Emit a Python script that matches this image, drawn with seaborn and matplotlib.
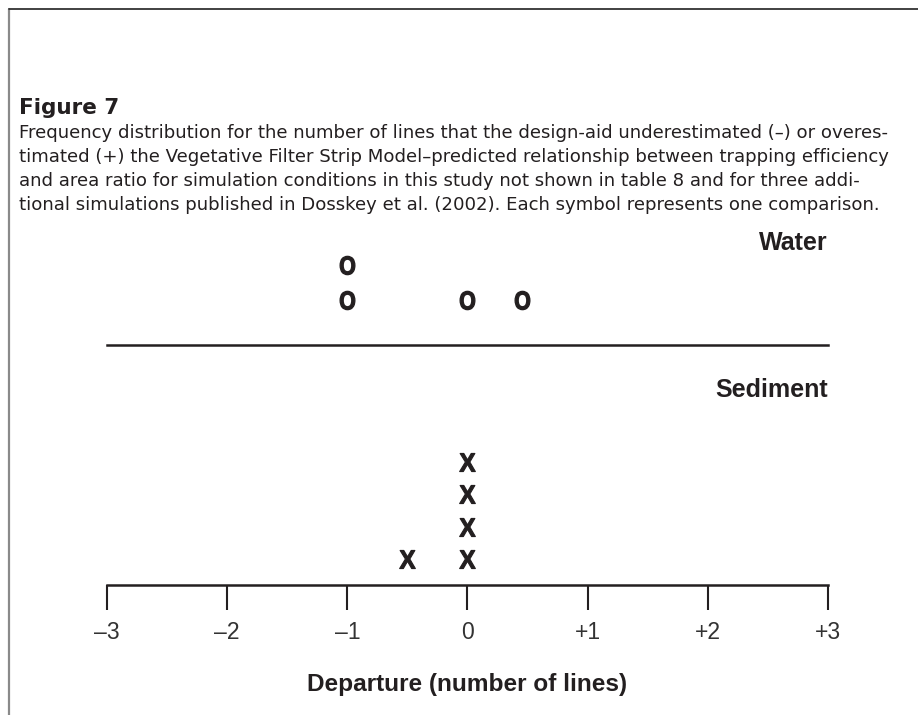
"""Dot-stack frequency chart: design-aid departure for water and sediment"""
import matplotlib
matplotlib.use("Agg")
import matplotlib.pyplot as plt
from matplotlib.lines import Line2D
from matplotlib.textpath import TextPath
from matplotlib.font_manager import FontProperties
from matplotlib.transforms import Affine2D
import seaborn as sns
import pandas as pd

# departures (number of lines), one entry per comparison
water_departure = [-1, -1, 0, 0.45]
sediment_departure = [-0.5, 0, 0, 0, 0]
tick_values = [-3, -2, -1, 0, 1, 2, 3]
tick_labels = ["\u20133", "\u20132", "\u20131", "0", "+1", "+2", "+3"]

caption_title = "Figure 7"
caption_lines = [
    "Frequency distribution for the number of lines that the design-aid underestimated (\u2013) or overes-",
    "timated (+) the Vegetative Filter Strip Model\u2013predicted relationship between trapping efficiency",
    "and area ratio for simulation conditions in this study not shown in table 8 and for three addi-",
    "tional simulations published in Dosskey et al. (2002). Each symbol represents one comparison.",
]

INK = "#231f20"
W, H = 918, 715
ARIAL = ["Liberation Sans", "DejaVu Sans"]

sns.set_theme(style="white")
plt.rcParams["font.family"] = ["DejaVu Sans"]


def stacked(values):
    df = pd.DataFrame({"departure": values})
    df["level"] = df.groupby("departure").cumcount() + 1
    return df


def glyph_marker(ch, xscale=1.0):
    # bold letter outline, centred, usable as a scatter marker
    tp = TextPath((0, 0), ch, prop=FontProperties(family=ARIAL, weight="bold"))
    ext = tp.get_extents()
    return tp.transformed(Affine2D()
                          .translate(-(ext.x0 + ext.width / 2), -(ext.y0 + ext.height / 2))
                          .scale(xscale, 1.0))


def fx(px):
    return px / W


def fy(py):
    return 1 - py / H


fig = plt.figure(figsize=(W / 100, H / 100), dpi=100)

# frame of the figure box (left + top only visible)
fig.add_artist(Line2D([fx(8.5), fx(8.5)], [0, fy(9)], color="#8a8a8a", lw=1.6))
fig.add_artist(Line2D([fx(8.5), 1], [fy(9), fy(9)], color="#333333", lw=1.3))

# caption
fig.text(fx(19), fy(108), caption_title, fontsize=15.5, fontweight="heavy", color=INK,
         va="center", ha="left")
for i, line in enumerate(caption_lines):
    fig.text(fx(19), fy(133 + 24 * i), line, fontsize=13.1, color=INK,
             va="center", ha="left")

left, right = 107, 828
# sediment axes: spine at 585px, 32.5 px per level, level 1 at 559px
sed_bottom, sed_top = 585, 370
ax_s = fig.add_axes([fx(left), fy(sed_bottom), fx(right - left), (sed_bottom - sed_top) / H])
ax_s.set_xlim(-3, 3)
ax_s.set_ylim(1 - 26 / 32.5, 1 - 26 / 32.5 + (sed_bottom - sed_top) / 32.5)

# water axes: spine at 345px, 35 px per level, level 1 at 300px
wat_bottom, wat_top = 345, 215
ax_w = fig.add_axes([fx(left), fy(wat_bottom), fx(right - left), (wat_bottom - wat_top) / H],
                    sharex=ax_s)
ax_w.set_ylim(1 - 45 / 35, 1 - 45 / 35 + (wat_bottom - wat_top) / 35)

sns.scatterplot(data=stacked(water_departure), x="departure", y="level", ax=ax_w,
                marker=glyph_marker("O", 0.82), s=175, color=INK, edgecolor=INK,
                linewidth=0.9, legend=False)
sns.scatterplot(data=stacked(sediment_departure), x="departure", y="level", ax=ax_s,
                marker=glyph_marker("X", 0.92), s=170, color=INK, edgecolor=INK,
                linewidth=0.8, legend=False)

for ax in (ax_s, ax_w):
    ax.set_facecolor("none")
    for side in ("top", "right", "left"):
        ax.spines[side].set_visible(False)
    ax.spines["bottom"].set_color(INK)
    ax.spines["bottom"].set_linewidth(1.8)
    ax.set_yticks([])
    ax.set_ylabel("")
    ax.set_xlabel("")

ax_w.tick_params(axis="x", bottom=False, labelbottom=False)

ax_s.set_xticks(tick_values)
ax_s.set_xticklabels(tick_labels, family=ARIAL)
ax_s.tick_params(axis="x", direction="out", bottom=True, length=18, width=1.5,
                 color=INK, labelsize=16.5, labelcolor="#333333", pad=8)
ax_s.set_xlabel("Departure (number of lines)", fontsize=17.6, fontweight="bold",
                color=INK, labelpad=21, family=ARIAL)

ax_w.text(1.0, (wat_bottom - 243) / (wat_bottom - wat_top), "Water", transform=ax_w.transAxes,
          ha="right", va="center", fontsize=18, fontweight="bold", color=INK, family=ARIAL)
ax_s.text(1.0, (sed_bottom - 390) / (sed_bottom - sed_top), "Sediment", transform=ax_s.transAxes,
          ha="right", va="center", fontsize=18, fontweight="bold", color=INK, family=ARIAL)

fig.savefig("out.png", dpi=100)
